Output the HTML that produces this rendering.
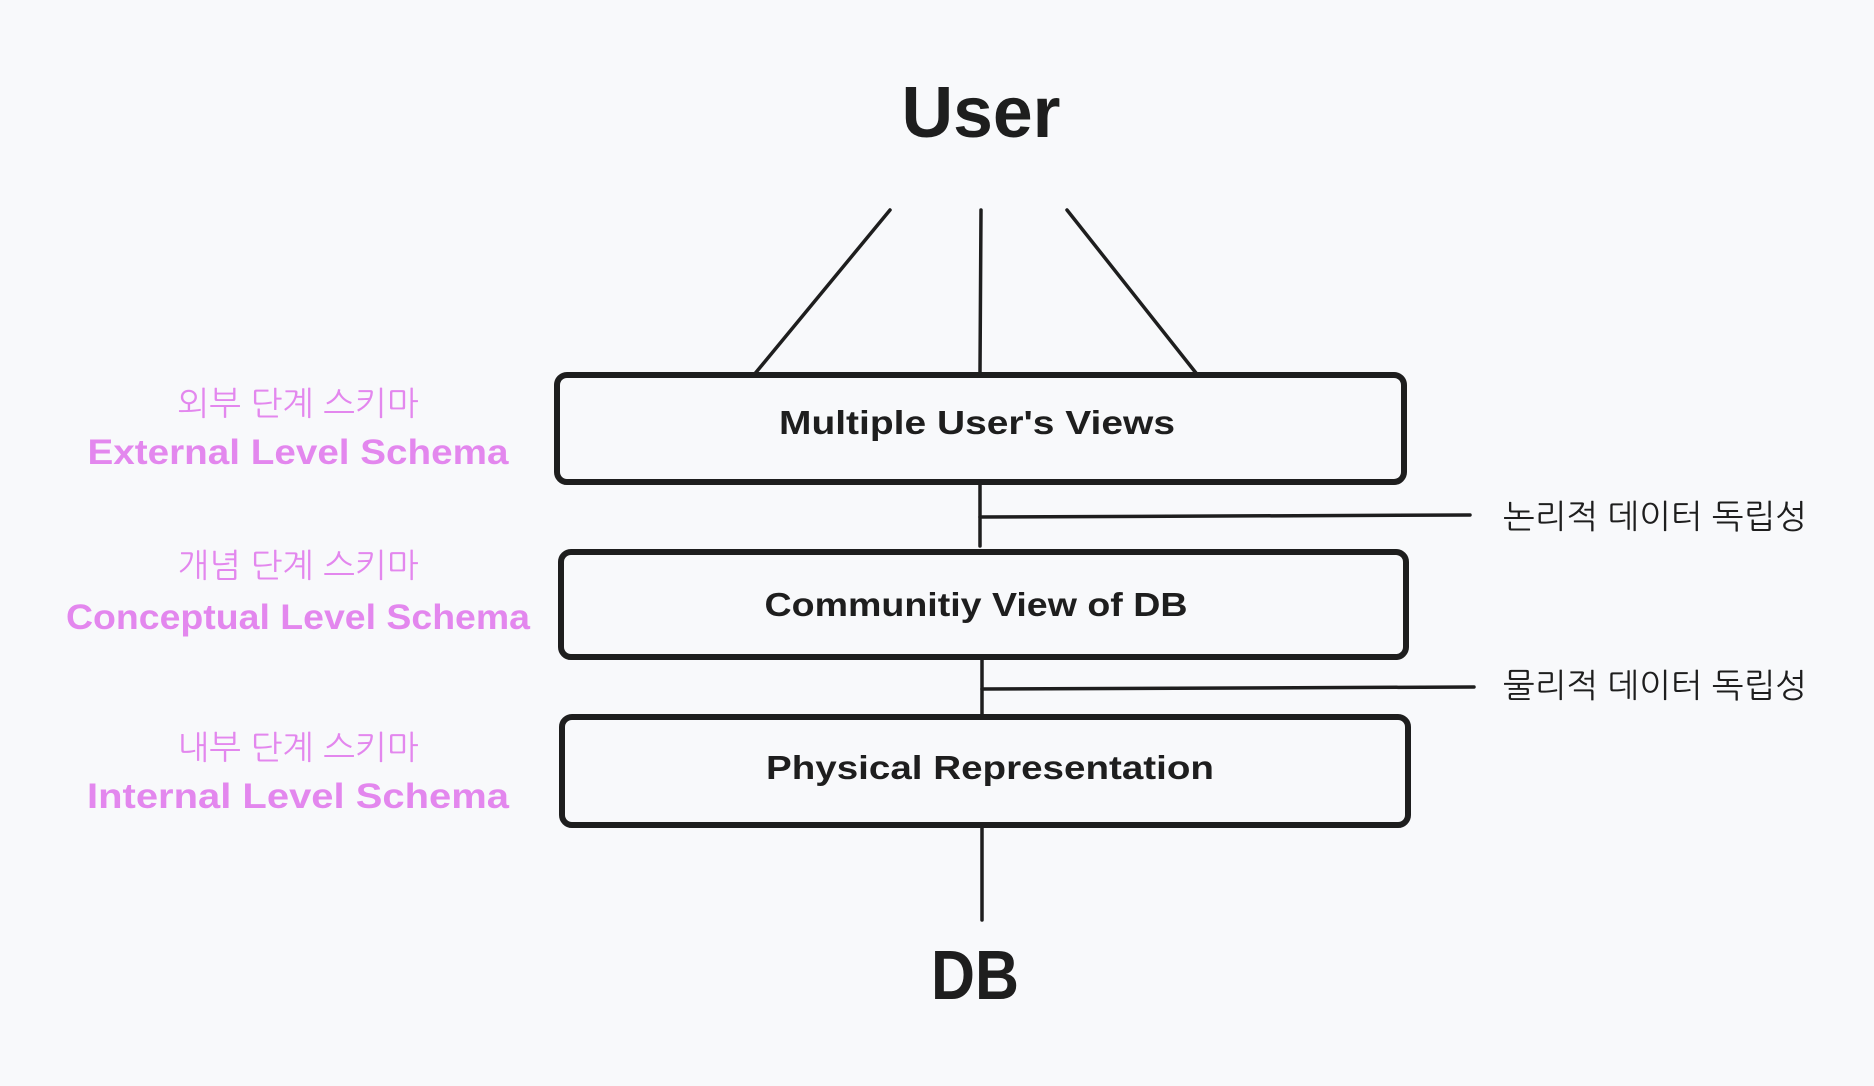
<!DOCTYPE html>
<html><head><meta charset="utf-8"><style>
html,body{margin:0;padding:0;background:#f8f9fb;}
svg{display:block}
</style></head><body>
<svg width="1874" height="1086" viewBox="0 0 1874 1086" xmlns="http://www.w3.org/2000/svg">
<rect width="1874" height="1086" fill="#f8f9fb"/>
<g stroke="#1e1e1e" stroke-width="3.5" fill="none" stroke-linecap="round">
<line x1="890" y1="210" x2="753" y2="376"/>
<line x1="981" y1="210" x2="980" y2="373"/>
<line x1="1067" y1="210" x2="1196" y2="373"/>
<line x1="980" y1="482" x2="980" y2="546"/>
<line x1="980" y1="517" x2="1470" y2="515"/>
<line x1="982" y1="657" x2="982" y2="715"/>
<line x1="982" y1="689" x2="1474" y2="687"/>
<line x1="982" y1="825" x2="982" y2="920"/>
</g>
<g stroke="#1e1e1e" stroke-width="6" fill="none">
<rect x="557" y="375" width="847" height="107" rx="10"/>
<rect x="561" y="552" width="845" height="105" rx="10"/>
<rect x="562" y="717" width="846" height="108" rx="10"/>
</g>
<g font-family="'Liberation Sans','NanumGothic',sans-serif" font-weight="bold" fill="#1e1e1e" text-anchor="middle" lengthAdjust="spacingAndGlyphs">
<text x="981" y="137" font-size="72" textLength="159" lengthAdjust="spacingAndGlyphs">User</text>
<text x="977" y="434" font-size="33" textLength="396" lengthAdjust="spacingAndGlyphs">Multiple User's Views</text>
<text x="976" y="616" font-size="33" textLength="423" lengthAdjust="spacingAndGlyphs">Communitiy View of DB</text>
<text x="990" y="779" font-size="33" textLength="448" lengthAdjust="spacingAndGlyphs">Physical Representation</text>
<text x="975" y="999" font-size="70" textLength="88" lengthAdjust="spacingAndGlyphs">DB</text>
</g>
<g font-family="'Liberation Sans','NanumGothic','Noto Sans CJK KR',sans-serif" fill="#1e1e1e" font-size="33">
<text x="1503" y="528" textLength="304" lengthAdjust="spacingAndGlyphs">논리적 데이터 독립성</text>
<text x="1503" y="697" textLength="304" lengthAdjust="spacingAndGlyphs">물리적 데이터 독립성</text>
</g>
<g font-family="'Liberation Sans','NanumGothic','Noto Sans CJK KR',sans-serif" fill="#e387ee" text-anchor="middle">
<text x="298" y="415" font-size="33" textLength="241" lengthAdjust="spacingAndGlyphs">외부 단계 스키마</text>
<text x="298" y="464" font-size="35" font-weight="bold" textLength="421" lengthAdjust="spacingAndGlyphs">External Level Schema</text>
<text x="298" y="577" font-size="33" textLength="241" lengthAdjust="spacingAndGlyphs">개념 단계 스키마</text>
<text x="298" y="629" font-size="35" font-weight="bold" textLength="464" lengthAdjust="spacingAndGlyphs">Conceptual Level Schema</text>
<text x="298" y="759" font-size="33" textLength="241" lengthAdjust="spacingAndGlyphs">내부 단계 스키마</text>
<text x="298" y="808" font-size="35" font-weight="bold" textLength="422" lengthAdjust="spacingAndGlyphs">Internal Level Schema</text>
</g>
</svg>
</body></html>
